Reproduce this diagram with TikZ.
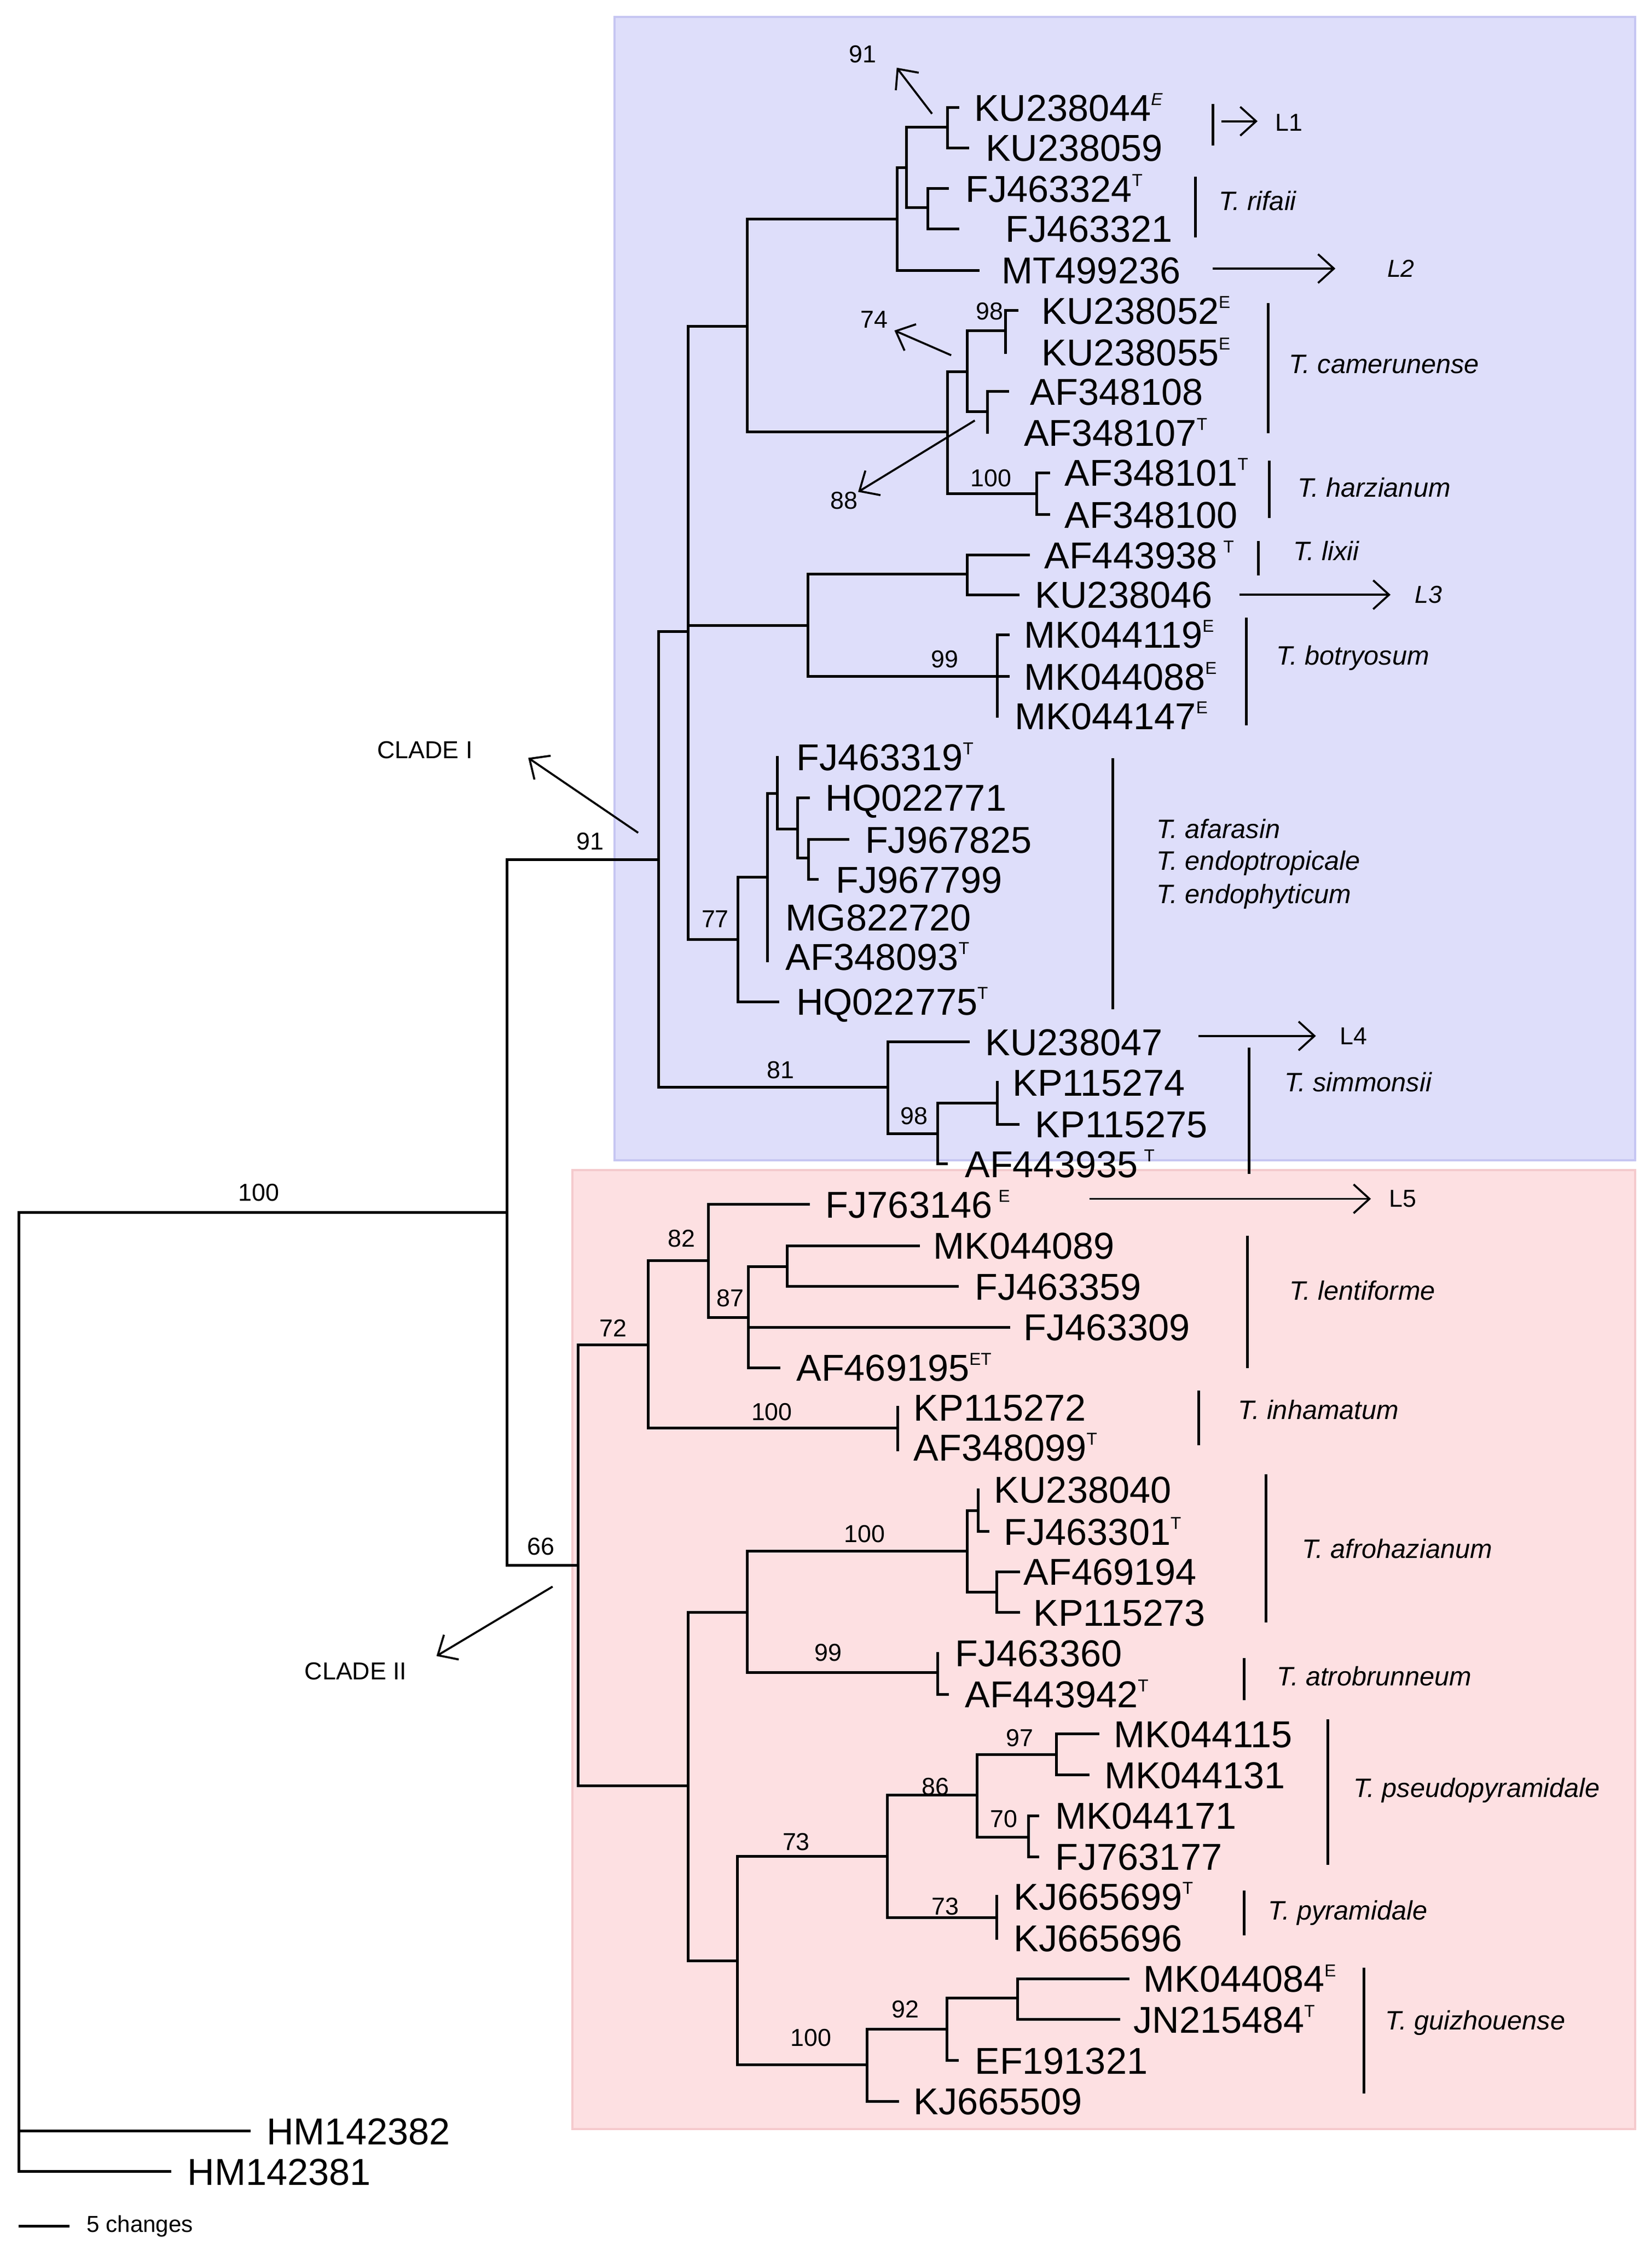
\documentclass[tikz,border=0pt]{standalone}
\usepackage{fontspec}
\setmainfont{Liberation Sans}
\usetikzlibrary{arrows.meta}
\newcommand\supx[1]{\raisebox{0.8ex}{\fontsize{12}{12}\selectfont #1}}
\definecolor{bluefill}{HTML}{DEDEFA}
\definecolor{blueedge}{HTML}{C6C6F2}
\definecolor{pinkfill}{HTML}{FDE0E2}
\definecolor{pinkedge}{HTML}{F5CACD}
\begin{document}
\begin{tikzpicture}[x=1pt,y=-1pt,
  br/.style={line width=1.9pt,line cap=rect},
  bar/.style={line width=1.9pt},
  arr/.style={line width=1.4pt,-{Straight Barb[length=11pt,width=20pt,line width=1.4pt]}},
  leaf/.style={anchor=base west,inner sep=0,font=\fontsize{26}{26}\selectfont},
  sup/.style={anchor=center,inner sep=0,font=\fontsize{17}{17}\selectfont},
  spc/.style={anchor=west,inner sep=0,font=\fontsize{18.5}{18.5}\selectfont\itshape},
  lin/.style={anchor=west,inner sep=0,font=\fontsize{17}{17}\selectfont}]
\useasboundingbox (0,0) rectangle (1146,1575);
\fill[white] (0,0) rectangle (1146,1575);
% boxes
\draw[fill=bluefill,draw=blueedge,line width=1.5pt] (426.6,11.7) rectangle (1135,805.8);
\draw[fill=pinkfill,draw=pinkedge,line width=1.5pt] (397.4,812.7) rectangle (1135,1478.6);
% root
\draw[br] (352,842)--(13,842)--(13,1508)--(118,1508);
\draw[br] (13,1480)--(173,1480);
\draw[br] (457,597)--(352,597)--(352,1087)--(401.2,1087);
% clade I
\draw[br] (616,755)--(457,755)--(457,438.7)--(477.6,438.7);
\draw[br] (518.6,226.6)--(477.6,226.6)--(477.6,652.3)--(512.3,652.3);
\draw[br] (477.6,434.3)--(561,434.3);
\draw[br] (623,152)--(518.6,152)--(518.6,300)--(657.8,300);
\draw[br] (629.4,116.4)--(623,116.4)--(623,187.8)--(679,187.8);
\draw[br] (657.8,88.5)--(629.4,88.5)--(629.4,144.2)--(643.9,144.2);
\draw[br] (665,74.7)--(657.8,74.7)--(657.8,102.6)--(672,102.6);
\draw[br] (657.8,131)--(643.9,131)--(643.9,158.8)--(665,158.8);
\draw[br] (671.3,258)--(657.8,258)--(657.8,343)--(719.5,343);
\draw[br] (698,229.5)--(671.3,229.5)--(671.3,286)--(685.5,286);
\draw[br] (706,215.7)--(698,215.7)--(698,244.7);
\draw[br] (699.6,271.9)--(685.5,271.9)--(685.5,300.4);
\draw[br] (728,328.3)--(719.5,328.3)--(719.5,357.4)--(728,357.4);
\draw[br] (671.3,398.6)--(561,398.6)--(561,469.8)--(692.4,469.8);
\draw[br] (713.8,385.5)--(671.3,385.5)--(671.3,413.1)--(706.9,413.1);
\draw[br] (700,440.7)--(692.4,440.7)--(692.4,497.4);
\draw[br] (692.4,469.8)--(700,469.8);
\draw[br] (532.7,609.3)--(512.3,609.3)--(512.3,695.6)--(540,695.6);
\draw[br] (539.7,551)--(532.7,551)--(532.7,667.4);
\draw[br] (539.7,525.9)--(539.7,575.8)--(553.8,575.8);
\draw[br] (561.1,554)--(553.8,554)--(553.8,596)--(561.1,596);
\draw[br] (588.8,583)--(561.1,583)--(561.1,610.7)--(567.4,610.7);
\draw[br] (672.2,723.5)--(616.2,723.5)--(616.2,787.4)--(650.8,787.4);
\draw[br] (692.4,766.2)--(650.8,766.2)--(650.8,808.3)--(657,808.3);
\draw[br] (692.4,751.7)--(692.4,780.7)--(706.9,780.7);
% clade II
\draw[br] (450,934)--(401.2,934)--(401.2,1240.3)--(477.8,1240.3);
\draw[br] (491.7,875.6)--(450,875.6)--(450,991.8)--(623.3,991.8);
\draw[br] (561.2,836.4)--(491.7,836.4)--(491.7,915)--(519.5,915);
\draw[br] (546.6,879.5)--(519.5,879.5)--(519.5,949.7)--(540.9,949.7);
\draw[br] (519.5,921.6)--(700.3,921.6);
\draw[br] (637.5,865)--(546.6,865)--(546.6,893.3)--(664.7,893.3);
\draw[br] (623.3,977.3)--(623.3,1007);
\draw[br] (518.8,1119.7)--(477.8,1119.7)--(477.8,1361.8)--(512,1361.8);
\draw[br] (671.4,1077.3)--(518.8,1077.3)--(518.8,1161.6)--(651.1,1161.6);
\draw[br] (678.9,1049)--(671.4,1049)--(671.4,1105.7)--(691.8,1105.7);
\draw[br] (678.9,1034.5)--(678.9,1063.5)--(686,1063.5);
\draw[br] (707,1091.4)--(691.8,1091.4)--(691.8,1119.7)--(707,1119.7);
\draw[br] (651.1,1148)--(651.1,1176.5)--(657.9,1176.5);
\draw[br] (616.1,1289.2)--(512,1289.2)--(512,1434)--(602,1434);
\draw[br] (678.2,1246.7)--(616.1,1246.7)--(616.1,1331.7)--(691.8,1331.7);
\draw[br] (733.5,1218.3)--(678.2,1218.3)--(678.2,1275.7)--(713.8,1275.7);
\draw[br] (762.3,1204.1)--(733.5,1204.1)--(733.5,1232.7)--(755.5,1232.7);
\draw[br] (720.6,1261)--(713.8,1261)--(713.8,1289.4)--(720.6,1289.4);
\draw[br] (691.8,1317)--(691.8,1346);
\draw[br] (657.2,1409)--(602,1409)--(602,1459.2)--(623.3,1459.2);
\draw[br] (706.4,1387.5)--(657.2,1387.5)--(657.2,1430.9)--(664.6,1430.9);
\draw[br] (783.3,1374.2)--(706.4,1374.2)--(706.4,1402.5)--(776.5,1402.5);
% leaves
\foreach \x/\y/\t [count=\i] in {
 676/74.7/{KU238044\supx{\textit{E}}}, 684/102.6/{KU238059}, 670/131/{FJ463324\supx{T}},
 698/158.8/{FJ463321}, 695/187.8/{MT499236}, 723/215.7/{KU238052\supx{E}},
 723/244.7/{KU238055\supx{E}}, 715/271.9/{AF348108}, 710.6/300.4/{AF348107\supx{T}},
 739/328.3/{AF348101\supx{T}}, 739/357.4/{AF348100}, 724.8/385.5/{AF443938\,\supx{T}},
 718.5/413.1/{KU238046}, 710.7/440.7/{MK044119\supx{E}}, 710.7/469.8/{MK044088\supx{E}},
 704.4/497.4/{MK044147\supx{E}}, 552.6/525.9/{FJ463319\supx{T}}, 572.7/554/{HQ022771},
 600.4/583/{FJ967825}, 580/610.7/{FJ967799}, 545.3/637/{MG822720},
 545.3/664.5/{AF348093\supx{T}}, 552.6/695.6/{HQ022775\supx{T}}, 683.9/723.5/{KU238047},
 702.8/751.7/{KP115274}, 718.5/780.7/{KP115275}, 669.7/808.3/{AF443935\,\supx{T}},
 573/836.4/{FJ763146\,\supx{E}}, 647.7/865/{MK044089}, 676.5/893.3/{FJ463359},
 710.4/921.6/{FJ463309}, 552.7/949.7/{AF469195\supx{ET}}, 634.1/977.3/{KP115272},
 634.1/1005/{AF348099\supx{T}}, 690/1034.5/{KU238040}, 696.8/1063.5/{FJ463301\supx{T}},
 710.4/1091.4/{AF469194}, 717.2/1119.7/{KP115273}, 663/1148/{FJ463360},
 669.7/1176.5/{AF443942\supx{T}}, 773.2/1204.1/{MK044115}, 766.4/1232.7/{MK044131},
 732.5/1261/{MK044171}, 732.5/1289.4/{FJ763177}, 703.6/1317/{KJ665699\supx{T}},
 703.6/1346/{KJ665696}, 793.5/1374.2/{MK044084\supx{E}}, 786.7/1402.5/{JN215484\supx{T}},
 676.5/1430.9/{EF191321}, 634.1/1459.2/{KJ665509}, 185/1480/{HM142382}, 130/1508/{HM142381}}
 \node[leaf] (leaf\i) at (\x,\y+9.3) {\t};
% support values
\foreach \x/\y/\t [count=\i] in {599/37.7/91, 606.7/221.8/74, 586/347.7/88, 687/216/98,
 688/332/100, 656/457.6/99, 496.5/638.3/77, 542/743/81, 634.5/775/98, 409.7/584.3/91,
 375.5/1074/66, 179.6/828.3/100, 425.6/922.3/72, 473/860/82, 507/901.3/87, 535.8/980.5/100,
 600.2/1065.2/100, 574.8/1147.6/99, 552.7/1278.9/73, 649.4/1240.8/86, 656.2/1324/73,
 708/1207/97, 696.9/1263.2/70, 628.4/1395.5/92, 563/1415/100}
 \node[sup] (bs\i) at (\x,\y) {\t};
% pointer arrows
\coordinate (a91s) at (647,79); \coordinate (a91e) at (622.5,47);
\coordinate (a74s) at (660.3,246.7); \coordinate (a74e) at (620.9,229.5);
\coordinate (a88s) at (676.7,292); \coordinate (a88e) at (595.7,341.6);
\draw[arr] (a91s)--(a91e); \draw[arr] (a74s)--(a74e); \draw[arr] (a88s)--(a88e);
\node[sup] (c1) at (295,520.7) {CLADE I};
\node[sup] (c2) at (247,1160.7) {CLADE II};
\coordinate (c1s) at (443,578.3); \coordinate (c1e) at (366.7,526.3);
\coordinate (c2s) at (383.6,1101.8); \coordinate (c2e) at (303,1150);
\draw[arr] (c1s)--(c1e); \draw[arr] (c2s)--(c2e);
% lineage arrows
\node[lin] (L1) at (885,85) {L1};
\node[lin,font=\fontsize{17}{17}\selectfont\itshape] (L2) at (962.8,186.5) {L2};
\node[lin,font=\fontsize{17}{17}\selectfont\itshape] (L3) at (982,413) {L3};
\node[lin] (L4) at (930,719.4) {L4};
\node[lin] (L5) at (964,832.5) {L5};
\coordinate (l1s) at (848,84.2); \coordinate (l1e) at (873,84.2);
\coordinate (l2s) at (842,186.5); \coordinate (l2e) at (927,186.5);
\coordinate (l3s) at (860.6,413); \coordinate (l3e) at (965.3,413);
\coordinate (l4s) at (831.8,719.4); \coordinate (l4e) at (913.5,719.4);
\coordinate (l5s) at (756.2,832.5); \coordinate (l5e) at (951.7,832.5);
\foreach \a in {l1,l2,l3,l4,l5} \draw[arr] (\a s)--(\a e);
% species bars
\draw[bar] (842,72)--(842,101);
\draw[bar] (829.8,122.6)--(829.8,165);
\draw[bar] (880.3,210.5)--(880.3,301);
\draw[bar] (881,319.7)--(881,359.7);
\draw[bar] (873.4,375.7)--(873.4,399.7);
\draw[bar] (865,429)--(865,503.6);
\draw[bar] (772.4,526.5)--(772.4,700.8);
\draw[bar] (867.2,727.4)--(867.2,815.3);
\draw[bar] (866,858)--(866,950);
\draw[bar] (832.3,965.6)--(832.3,1003.7);
\draw[bar] (879,1023.8)--(879,1126.9);
\draw[bar] (863.8,1151.5)--(863.8,1180.6);
\draw[bar] (921.7,1194)--(921.7,1294.9);
\draw[bar] (863.8,1312.8)--(863.8,1344);
\draw[bar] (946.8,1366.6)--(946.8,1453.9);
\node[spc] (s1) at (845.8,139.6) {T. rifaii};
\node[spc] (s2) at (894.6,253) {T. camerunense};
\node[spc] (s3) at (900.5,338.4) {T. harzianum};
\node[spc] (s4) at (897.5,382.6) {T. lixii};
\node[spc] (s5) at (885.7,457) {T. botryosum};
\node[spc] (s6) at (802.7,575.5) {T. afarasin};
\node[spc] (s7) at (802.7,599.5) {T. endoptropicale};
\node[spc] (s8) at (802.7,622.4) {T. endophyticum};
\node[spc] (s9) at (891.4,751.4) {T. simmonsii};
\node[spc] (s10) at (895,896) {T. lentiforme};
\node[spc] (s11) at (859.4,979) {T. inhamatum};
\node[spc] (s12) at (903.7,1075.4) {T. afrohazianum};
\node[spc] (s13) at (886.4,1164) {T. atrobrunneum};
\node[spc] (s14) at (939.4,1243.4) {T. pseudopyramidale};
\node[spc] (s15) at (880.3,1328.5) {T. pyramidale};
\node[spc] (s16) at (961.6,1404.6) {T. guizhouense};
% scale
\coordinate (sc1) at (13,1546); \coordinate (sc2) at (48.4,1546);
\draw[br,line cap=butt] (sc1)--(sc2);
\node[lin,font=\fontsize{16}{16}\selectfont] (scl) at (60,1546) {5 changes};
\end{tikzpicture}
\end{document}
